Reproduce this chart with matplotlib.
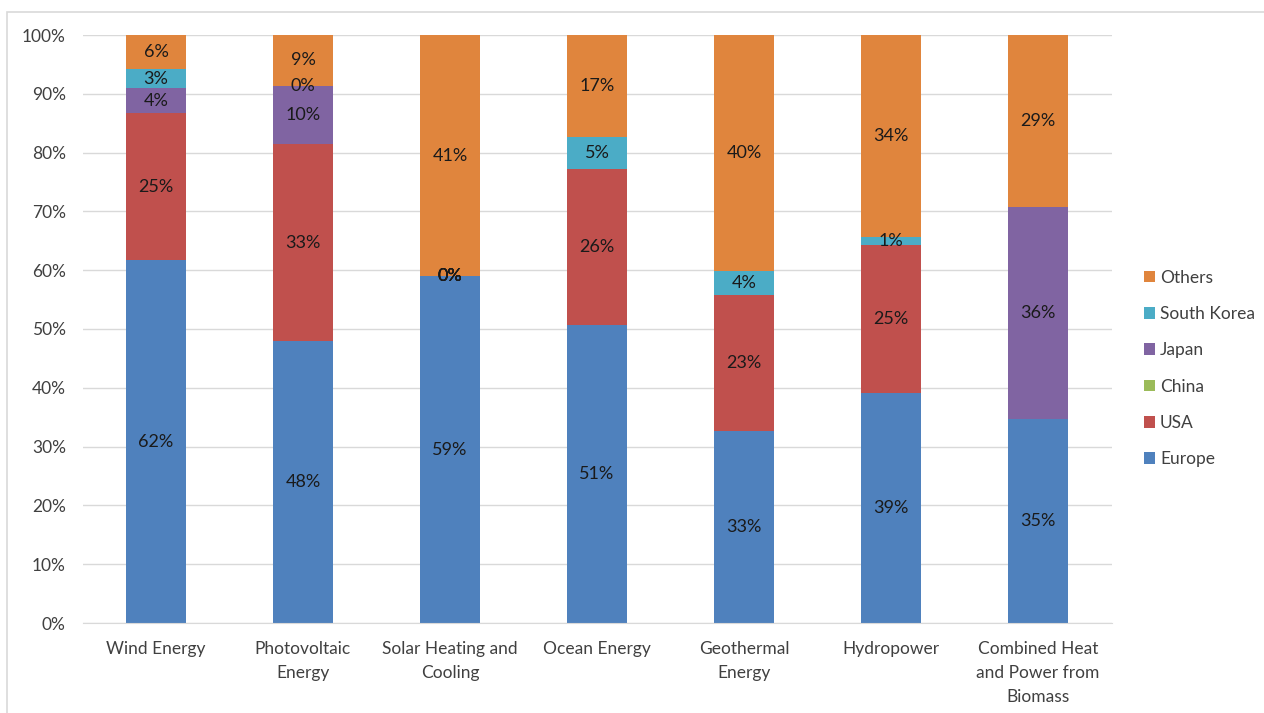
import numpy as np
import matplotlib
matplotlib.use("Agg")
import matplotlib.pyplot as plt
from matplotlib.patches import Rectangle, Patch

categories = ["Wind Energy", "Photovoltaic\nEnergy", "Solar Heating and\nCooling", "Ocean Energy",
              "Geothermal\nEnergy", "Hydropower", "Combined Heat\nand Power from\nBiomass"]
series_names = ["Europe", "USA", "China", "Japan", "South Korea", "Others"]
nan = np.nan
europe = [61.7, 48.0, 59.0, 50.7, 32.7, 39.1, 34.7]
usa = [25.0, 33.4, 0.0, 26.5, 23.1, 25.2, nan]
china = [nan, nan, 0.0, nan, nan, nan, nan]
japan = [4.3, 10.0, 0.0, nan, nan, nan, 36.0]
south_korea = [3.2, 0.0, 0.0, 5.4, 4.1, 1.3, nan]
others = [5.8, 8.6, 41.0, 17.4, 40.1, 34.4, 29.3]
y_ticks = [0, 10, 20, 30, 40, 50, 60, 70, 80, 90, 100]

colors = ["#4f81bd", "#c0504d", "#9bbb59", "#8064a2", "#4bacc6", "#e0853d"]
series = [europe, usa, china, japan, south_korea, others]

plt.rcParams["font.family"] = ["Lato", "DejaVu Sans"]

fig = plt.figure(figsize=(12.64, 7.13), dpi=100)
ax = fig.add_axes([82.5 / 1264, 1 - 623 / 713, 1029 / 1264, 588 / 713])

x = np.arange(len(categories))
bottom = np.zeros(len(categories))
width = 0.41
for name, vals, col in zip(series_names, series, colors):
    v = np.array(vals, dtype=float)
    h = np.nan_to_num(v)
    ax.bar(x, h, width, bottom=bottom, color=col, label=name, zorder=2)
    for xi, (val, b) in enumerate(zip(v, bottom)):
        if np.isnan(val):
            continue
        ax.text(xi, b + val / 2, f"{val:.0f}%", ha="center", va="center",
                fontsize=13, color="#1a1a1a", zorder=3)
    bottom += h

ax.set_xlim(-0.5, len(categories) - 0.5)
ax.set_ylim(0, 100)
ax.set_yticks(y_ticks)
ax.set_yticklabels([f"{t}%" for t in y_ticks], fontsize=12.5, color="#404040")
ax.set_xticks(x)
ax.set_xticklabels(categories, fontsize=12.5, color="#404040", linespacing=1.6, va="top")
ax.tick_params(axis="both", length=0)
ax.tick_params(axis="x", pad=13)
ax.tick_params(axis="y", pad=12)
ax.grid(axis="y", color="#d9d9d9", linewidth=1, zorder=0)
ax.set_axisbelow(True)
for s in ["top", "right", "left"]:
    ax.spines[s].set_visible(False)
ax.spines["bottom"].set_color("#d9d9d9")

handles = [Patch(facecolor=c, label=n) for n, c in zip(series_names, colors)][::-1]
fig.legend(handles=handles, loc="upper left", bbox_to_anchor=(1128 / 1264, 1 - 254 / 713),
           frameon=False, fontsize=12.5, handlelength=0.65, handleheight=0.65,
           handletextpad=0.3, labelspacing=1.17, labelcolor="#404040")

fig.patches.append(Rectangle((7 / 1264, -0.1), 1.2, (713 - 12) / 713 + 0.1,
                             transform=fig.transFigure, fill=False,
                             edgecolor="#d9d9d9", linewidth=1.2))

fig.savefig("out.png", dpi=100)
